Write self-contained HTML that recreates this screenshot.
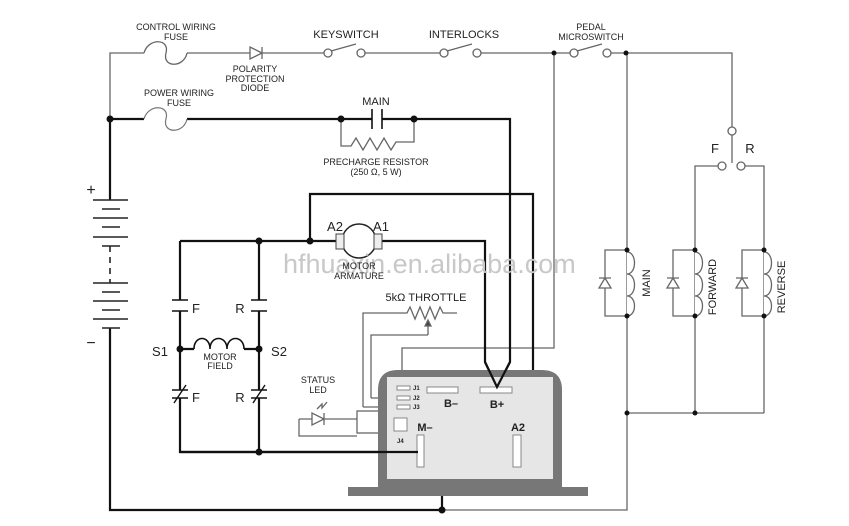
<!DOCTYPE html>
<html><head><meta charset="utf-8"><style>
html,body{margin:0;padding:0;background:#fff}
svg{display:block}
text{font-family:"Liberation Sans",sans-serif;fill:#222}
</style></head><body>
<svg width="849" height="526" viewBox="0 0 849 526" xmlns="http://www.w3.org/2000/svg">
<g fill="none" stroke="#666" stroke-width="1.3">
<!-- top control line -->
<path d="M110 119 V53 H144"/>
<path d="M144 53 C148 38 170 38 166 53 C162 68 184 68 187 53"/>
<path d="M187 53 H250 M262 53 H324 M365 53 H440 M481 53 H570 M611 53 H732 V127"/>
<path d="M250 47 V59 L262 53 Z M262 47 V59"/>
<path d="M331 51 L356 44 M447 51 L472 44 M577 51 L602 44"/>
<circle cx="328" cy="53" r="4" fill="#fff"/><circle cx="361" cy="53" r="4" fill="#fff"/>
<circle cx="444" cy="53" r="4" fill="#fff"/><circle cx="477" cy="53" r="4" fill="#fff"/>
<circle cx="574" cy="53" r="4" fill="#fff"/><circle cx="607" cy="53" r="4" fill="#fff"/>
<!-- F/R switch -->
<circle cx="732" cy="131" r="4" fill="#fff"/>
<path d="M732 135 V163"/>
<circle cx="722" cy="166" r="4" fill="#fff"/><circle cx="741" cy="166" r="4" fill="#fff"/>
<path d="M718 166 H695 V316 V413 M745 166 H764 V413"/>
<path d="M627 53 V510 H442 M627 413 H764"/>
<!-- pedal to J1 -->
<path d="M554 53 V348 H402 V388"/>
<!-- coils -->
<path d="M627 252 c10 0 10 22 0 22 c10 0 10 22 0 22 c10 0 10 20 0 20" fill="#fff"/>
<path d="M695 252 c10 0 10 22 0 22 c10 0 10 22 0 22 c10 0 10 20 0 20" fill="#fff"/>
<path d="M764 252 c10 0 10 22 0 22 c10 0 10 22 0 22 c10 0 10 20 0 20" fill="#fff"/>
<path d="M627 250 H605 V316 H627 M695 250 H673 V316 H695 M764 250 H742 V316 H764"/>
<path d="M599 288 H611 L605 278 Z M599 278 H611 M667 288 H679 L673 278 Z M667 278 H679 M736 288 H748 L742 278 Z M736 278 H748" fill="#fff"/>
<!-- throttle -->
<path d="M363 407 V313 H407 l3 -6 l5 12 l5 -12 l5 12 l5 -12 l5 12 l5 -12 l3 6 H457"/>
<path d="M428 335 V322 M371 398 V335 H428"/>
<path d="M425 326 L428 320 L431 326 Z" fill="#444"/>
<path d="M363 407 H397 M371 398 H397"/>
<!-- LED -->
<path d="M299 419 H312 M324 419 H357 M299 419 V436 H357 M357 414 H395 M357 424 H395 M357 431 H395"/>
<path d="M312 413 V425 L324 419 Z M324 413 V425" fill="#fff"/>
<path d="M317 409 l5 -5 l0 4 l5 -6" />
<rect x="357" y="411" width="22" height="22" fill="#fff"/>
<!-- precharge -->
<path d="M341 119 V146 H351 l5 -8 l7 12 l7 -12 l7 12 l7 -12 l7 12 l5 -8 H414 V119"/>
</g>
<!-- power wires -->
<g fill="none" stroke="#111" stroke-width="2.2">
<path d="M110 119 V200 M110 328 V510 H442"/>
<path d="M110 119 H144"/>
<path d="M187 119 H372 M382 119 H510 V362 L497 387 L485 362 V241 H380"/>
<path d="M310 241 V194 H533 V452 H521"/>
<path d="M180 241 H342 M180 241 V300 M259 241 V300 M180 311 V390 M259 311 V390 M180 398 V452 H418 M259 398 V452"/>
<path d="M172 300 H188 M172 311 H188 M251 300 H267 M251 311 H267 M172 390 H188 M172 398 H188 M251 390 H267 M251 398 H267" stroke-width="1.6"/>
<path d="M174 403 L186 385 M253 403 L265 385" stroke-width="1.4"/>
<path d="M180 349 H194 M244 349 H259"/>
<path d="M194 349 c0 -14 16 -14 16 0 c0 -14 17 -14 17 0 c0 -14 17 -14 17 0" stroke-width="1.6"/>
<path d="M442 393 V510"/>
<path d="M372 109 V129 M382 109 V129" stroke-width="1.6"/>
</g>
<path d="M144 119 C148 104 170 104 166 119 C162 134 184 134 187 119" fill="none" stroke="#777" stroke-width="1.2"/>
<!-- battery -->
<g stroke="#222" stroke-width="1.6">
<path d="M93 200 H128 M102 209 H120 M93 218 H128 M102 227 H120 M93 237 H128 M102 246 H120 M93 283 H128 M102 292 H120 M93 301 H128 M102 310 H120 M93 319 H128 M102 328 H120"/>
<path d="M110 246 V283" stroke-dasharray="6 5"/>
</g>
<!-- motor -->
<circle cx="359" cy="241" r="17" fill="#fff" stroke="#222" stroke-width="1.5"/>
<rect x="336" y="234" width="8" height="15" fill="#eee" stroke="#444"/>
<rect x="374" y="234" width="8" height="15" fill="#eee" stroke="#444"/>
<!-- controller -->
<path d="M348 487 H378 V390 Q378 370 398 370 H542 Q562 370 562 390 V487 H588 V496 H348 Z" fill="#777"/>
<rect x="387" y="377" width="166" height="102" fill="#e6e6e6"/>
<g fill="#fff" stroke="#888">
<rect x="427" y="387" width="31" height="6"/><rect x="480" y="387" width="32" height="6"/>
<rect x="417" y="435" width="7" height="32"/><rect x="513" y="435" width="8" height="32"/>
<rect x="397" y="386" width="13" height="4"/><rect x="397" y="396" width="13" height="4"/><rect x="397" y="405" width="13" height="4"/>
<rect x="394" y="418" width="13" height="13"/>
</g>
<path d="M485 362 L497 387 L510 362" fill="none" stroke="#111" stroke-width="2.2"/>
<path d="M418 452 H180" stroke="#111" stroke-width="2.2"/>
<!-- dots -->
<g fill="#111">
<circle cx="110" cy="119" r="3.5"/><circle cx="341" cy="119" r="3.5"/><circle cx="414" cy="119" r="3.5"/>
<circle cx="259" cy="241" r="3.5"/><circle cx="310" cy="241" r="3.5"/><circle cx="180" cy="349" r="3.5"/><circle cx="259" cy="349" r="3.5"/><circle cx="259" cy="452" r="3.5"/><circle cx="442" cy="510" r="3.5"/>
<circle cx="554" cy="53" r="2.5"/><circle cx="626" cy="53" r="2.5"/>
<circle cx="627" cy="250" r="2.5"/><circle cx="627" cy="316" r="2.5"/><circle cx="695" cy="250" r="2.5"/><circle cx="695" cy="316" r="2.5"/><circle cx="764" cy="250" r="2.5"/><circle cx="764" cy="316" r="2.5"/>
<circle cx="627" cy="413" r="2.5"/><circle cx="695" cy="413" r="2.5"/>
</g>
<!-- watermark -->
<text x="283" y="273" font-size="27" style="fill:#c8c8c8">hfhuaxin.en.alibaba.com</text>
<!-- labels -->
<g font-size="9" text-anchor="middle">
<text x="176" y="30">CONTROL WIRING</text><text x="176" y="40">FUSE</text>
<text x="255" y="72">POLARITY</text><text x="255" y="82">PROTECTION</text><text x="255" y="91">DIODE</text>
<text x="179" y="96">POWER WIRING</text><text x="179" y="106">FUSE</text>
<text x="591" y="30">PEDAL</text><text x="591" y="40">MICROSWITCH</text>
<text x="376" y="165">PRECHARGE RESISTOR</text><text x="376" y="175">(250 Ω, 5 W)</text>
<text x="359" y="269">MOTOR</text><text x="359" y="279">ARMATURE</text>
<text x="220" y="360">MOTOR</text><text x="220" y="369">FIELD</text>
<text x="318" y="383">STATUS</text><text x="318" y="393">LED</text>
</g>
<g font-size="11" text-anchor="middle">
<text x="346" y="38">KEYSWITCH</text><text x="464" y="38">INTERLOCKS</text>
<text x="376" y="105">MAIN</text>
<text x="426" y="301">5kΩ THROTTLE</text>
</g>
<g font-size="13" text-anchor="middle">
<text x="335" y="231">A2</text><text x="381" y="231">A1</text>
<text x="196" y="313">F</text><text x="240" y="313">R</text><text x="196" y="402">F</text><text x="240" y="402">R</text>
<text x="160" y="356">S1</text><text x="279" y="356">S2</text>
<text x="715" y="153">F</text><text x="750" y="153">R</text>
<text x="91" y="195" font-size="16">+</text><text x="91" y="348" font-size="16">−</text>
</g>
<g font-size="11" font-weight="bold" text-anchor="middle" style="fill:#222">
<text x="451" y="407">B–</text><text x="497" y="408">B+</text>
<text x="425" y="431">M–</text><text x="518" y="431">A2</text>
</g>
<g font-size="6" font-weight="bold">
<text x="413" y="390">J1</text><text x="413" y="400">J2</text><text x="413" y="409">J3</text><text x="397" y="443">J4</text>
</g>
<g font-size="11">
<text transform="translate(650,283) rotate(-90)" text-anchor="middle">MAIN</text>
<text transform="translate(716,287) rotate(-90)" text-anchor="middle">FORWARD</text>
<text transform="translate(785,287) rotate(-90)" text-anchor="middle">REVERSE</text>
</g>
</svg>
</body></html>
